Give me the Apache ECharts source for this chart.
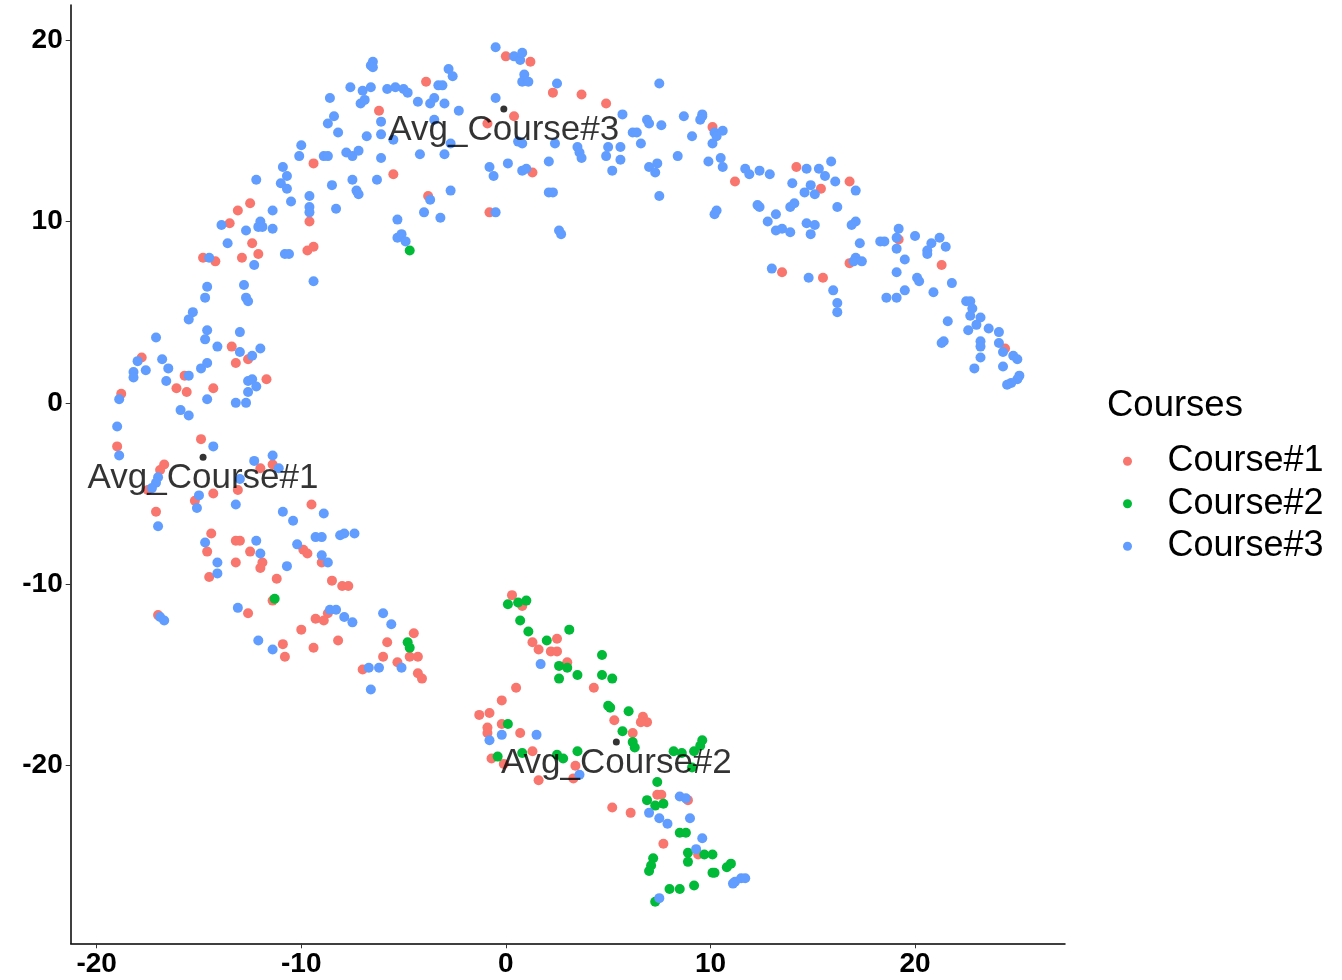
<!DOCTYPE html>
<html>
<head>
<meta charset="utf-8">
<script src="https://cdn.jsdelivr.net/npm/echarts@6/dist/echarts.min.js"></script>
<style>
html,body{margin:0;padding:0;background:#fff;}
#chart{width:1342px;height:980px;}
</style>
</head>
<body>
<div id="chart"></div>
<script>
const seriesNames = ['Course#1', 'Course#2', 'Course#3'];
const seriesColors = ['#F8766D', '#00BA38', '#619CFF'];
const xTicks = [-20, -10, 0, 10, 20];
const yTicks = [-20, -10, 0, 10, 20];
const xRange = [-21.27, 27.33];
const yRange = [-29.79, 21.93];

const course1Points = [
[-6.2,16.1],[-9.4,13.2],[-5.5,12.6],[-9.6,10.0],[-12.5,11.0],[-13.1,10.6],[-13.5,9.9],[-12.4,8.8],[-12.1,8.2],[-12.9,8.0],[-9.7,8.4],[-9.4,8.6],[-14.8,8.0],[-14.2,7.8],
[0.0,19.1],[1.2,18.8],[-3.9,17.7],[2.3,17.1],[3.7,17.0],[4.9,16.5],[0.4,15.8],[-0.9,15.4],[10.1,15.2],[1.3,12.7],[-3.8,11.4],[-0.8,10.5],
[11.2,12.2],[14.2,13.0],[16.8,12.2],[15.4,11.8],[19.2,9.0],[16.8,7.7],[21.3,7.6],[13.5,7.2],[15.5,6.9],[24.4,3.0],
[-13.4,3.1],[-12.6,2.4],[-13.2,2.2],[-17.8,2.5],[-15.7,1.5],[-16.1,0.8],[-15.6,0.6],[-14.3,0.8],[-11.7,1.3],[-18.8,0.5],[-19.0,-2.4],[-14.9,-2.0],[-16.7,-3.4],[-16.9,-3.7],[-17.5,-4.8],[-12.0,-3.6],[-11.4,-3.4],[-13.1,-4.8],[-15.2,-5.4],[-14.3,-5.0],[-17.1,-6.0],[-9.5,-5.6],[-14.4,-7.2],[-14.6,-8.2],[-13.2,-7.6],[-13.0,-7.6],[-12.5,-8.2],[-11.9,-8.8],[-12.0,-9.1],[-13.2,-8.8],[-14.5,-9.6],[-11.2,-9.7],[-9.9,-8.1],[-9.7,-8.3],[-9.0,-8.8],[-8.5,-9.8],[-8.0,-10.1],[-7.7,-10.1],[-11.4,-10.9],[-12.6,-11.6],[-17.0,-11.7],[-8.7,-11.6],[-9.3,-11.9],[-8.9,-12.0],[-10.0,-12.5],[-10.9,-13.3],[-10.8,-14.0],[-9.4,-13.5],[-8.2,-13.1],[-5.8,-13.2],[-6.0,-14.0],[-5.3,-14.3],[-7.0,-14.7],
[-4.5,-12.7],[-4.7,-14.0],[-4.3,-14.0],[-4.3,-14.9],[-4.1,-15.2],
[0.3,-10.6],[0.8,-11.2],[1.3,-13.2],[2.5,-13.0],[1.6,-13.6],[2.2,-13.7],[2.5,-13.7],[3.0,-14.3],[0.5,-15.7],[4.3,-15.7],[-0.2,-16.4],[-1.3,-17.2],[-0.8,-17.1],[6.7,-17.3],[6.9,-17.6],[6.6,-17.6],[5.3,-17.5],[-0.9,-17.9],[-0.9,-18.2],[-0.2,-17.7],[0.7,-18.2],[6.2,-18.2],[-0.7,-19.6],[-0.1,-19.9],[1.3,-19.2],[3.4,-20.0],[3.3,-20.7],[1.6,-20.8],[7.4,-21.6],[7.6,-21.6],[8.9,-21.9],[5.2,-22.3],[6.1,-22.6],[7.7,-24.3],[9.4,-24.9]
];

const course2Points = [
[-4.7,8.4],[-11.3,-10.8],[-4.8,-13.2],[-4.7,-13.5],[0.1,-11.1],[0.6,-11.0],[1.0,-10.9],[0.7,-12.0],[1.1,-12.6],[3.1,-12.5],[2.0,-13.1],[2.6,-14.5],[3.0,-14.6],[4.7,-13.9],[2.6,-15.2],[3.5,-15.0],[4.7,-15.0],[5.2,-15.2],[5.0,-16.7],[5.1,-16.8],[6.0,-17.0],[0.1,-17.7],[5.7,-18.1],[6.2,-18.7],[6.3,-19.0],[-0.4,-19.5],[0.8,-19.3],[2.5,-19.4],[2.8,-19.6],[3.5,-19.2],[8.2,-19.2],[8.6,-19.3],[9.2,-19.2],[9.5,-18.9],[9.6,-18.6],[9.1,-20.1],[7.4,-20.9],[6.9,-21.9],[7.3,-22.2],[7.7,-22.1],[8.5,-23.7],[8.8,-23.7],[8.9,-24.8],[8.9,-25.3],[9.7,-24.9],[10.1,-24.9],[7.2,-25.1],[7.1,-25.5],[7.0,-25.8],[10.1,-25.9],[10.2,-25.9],[10.8,-25.6],[11.0,-25.4],[8.0,-26.8],[8.5,-26.8],[9.2,-26.6],[7.3,-27.5]
];

const course3Points = [
[-6.6,18.6],[-6.5,18.8],[-6.5,18.5],[-7.6,17.4],[-7.0,17.2],[-6.6,17.4],[-7.1,16.5],[-6.9,16.7],[-5.8,17.3],[-5.4,17.4],[-8.6,16.8],[-6.1,15.5],[-8.4,15.8],[-8.7,15.4],[-8.2,14.9],[-6.8,14.7],[-6.1,14.8],[-5.5,14.5],[-10.0,14.2],[-10.1,13.6],[-8.9,13.6],[-8.7,13.6],[-7.8,13.8],[-7.5,13.6],[-7.2,13.9],[-6.1,13.5],[-10.9,13.0],[-10.7,12.5],[-11.0,12.1],[-10.7,11.8],[-12.2,12.3],[-10.5,11.1],[-9.6,11.4],[-9.6,10.8],[-9.6,10.5],[-8.5,12.0],[-7.5,12.3],[-7.3,11.7],[-7.2,11.5],[-6.3,12.3],[-8.3,10.7],[-5.3,10.1],[-5.3,9.1],[-11.4,10.6],[-13.9,9.8],[-12.0,10.0],[-12.1,9.7],[-11.9,9.7],[-11.4,9.6],[-12.7,9.5],[-13.6,8.8],[-12.3,7.6],[-10.8,8.2],[-10.6,8.2],[-9.4,6.7],[-14.5,8.0],[-14.6,6.4],[-14.7,5.8],[-12.8,6.5],[-12.7,5.8],[-12.6,5.6],[-15.3,5.0],[-15.5,4.6],
[-0.5,19.6],[0.4,19.1],[0.7,18.9],[0.8,19.3],[0.9,18.1],[0.8,17.7],[1.1,17.7],[-2.8,18.4],[-2.6,18.0],[2.5,17.6],[7.5,17.6],[-5.0,17.3],[-4.8,17.1],[-3.3,17.5],[-3.1,17.5],[-3.5,16.8],[-3.7,16.5],[-4.3,16.6],[-3.0,16.5],[-2.3,16.1],[-0.5,16.8],[-3.5,15.6],[0.6,14.4],[0.8,14.3],[-2.7,14.3],[2.4,14.3],[3.5,14.1],[3.6,13.8],[3.7,13.5],[5.0,14.1],[4.9,13.6],[5.6,14.1],[5.7,15.9],[6.9,15.6],[7.0,15.4],[7.6,15.3],[8.7,15.8],[9.6,15.8],[9.6,15.9],[9.5,15.6],[10.2,14.9],[10.1,14.3],[6.2,14.9],[6.4,14.9],[6.6,14.3],[5.6,13.4],[5.2,12.8],[7.0,13.0],[7.4,13.2],[7.3,12.7],[8.4,13.6],[9.1,14.7],[9.9,13.3],[-4.2,13.7],[-3.0,13.7],[2.1,13.3],[0.1,13.2],[-0.8,13.0],[-0.6,12.5],[0.8,12.8],[1.0,12.9],[2.1,11.6],[2.3,11.6],[-2.7,11.7],[-3.7,11.2],[7.5,11.4],[-4.0,10.5],[-3.2,10.2],[-0.5,10.5],[2.6,9.5],[2.7,9.3],[-5.1,9.3],[-4.9,8.9],[10.3,10.6],[10.2,10.4],
[10.6,15.0],[10.3,14.7],[10.5,13.5],[10.6,13.0],[11.7,12.9],[11.9,12.6],[12.4,12.8],[12.9,12.6],[14.7,12.9],[15.3,12.9],[15.6,12.5],[15.9,13.3],[17.1,11.7],[16.1,12.2],[14.0,12.1],[14.9,12.0],[14.6,11.6],[15.1,11.5],[12.3,10.9],[12.4,10.8],[13.9,10.8],[14.1,11.0],[16.2,10.8],[13.2,10.4],[12.8,10.0],[13.2,9.5],[13.5,9.6],[13.9,9.4],[14.7,9.9],[15.1,9.8],[14.9,9.3],[17.1,10.0],[16.9,9.8],[17.3,8.8],[18.3,8.9],[18.5,8.9],[19.2,9.6],[19.1,9.1],[19.1,8.5],[20.0,9.2],[20.8,8.8],[20.6,8.4],[20.6,8.2],[21.2,9.1],[21.5,8.6],[17.1,8.0],[17.0,7.8],[17.4,7.8],[19.5,7.9],[19.1,7.2],[13.0,7.4],[14.8,6.9],[16.0,6.2],[16.2,5.5],[16.2,5.0],[20.1,6.9],[20.2,6.7],[20.9,6.1],[21.8,6.6],[18.6,5.8],[19.1,5.8],[19.5,6.2],[22.5,5.6],[22.7,5.6],[22.8,5.2],[22.7,4.8],[23.2,4.7],[23.0,4.3],[23.6,4.1],[24.1,3.9],[21.6,4.5],[22.6,4.0],[21.4,3.4],[21.3,3.3],[23.2,3.4],[23.2,3.1],[23.2,2.5],[24.1,3.3],[24.3,2.8],[24.8,2.6],[25.0,2.4],[22.9,1.9],[24.3,2.0],[25.1,1.5],[25.0,1.3],[24.7,1.1],[24.5,1.0],
[-17.1,3.6],[-14.6,4.0],[-14.7,3.5],[-13.0,3.9],[-14.1,3.1],[-13.0,2.8],[-12.4,2.6],[-12.0,3.0],[-18.0,2.3],[-18.2,1.7],[-18.2,1.4],[-17.6,1.8],[-16.8,2.4],[-16.5,1.9],[-16.6,1.2],[-15.5,1.5],[-14.9,1.9],[-14.6,2.2],[-14.6,0.2],[-12.6,1.2],[-12.4,1.3],[-12.2,0.9],[-12.6,0.6],[-13.2,0.0],[-12.7,0.0],[-18.9,0.2],[-15.9,-0.4],[-15.5,-0.7],[-19.0,-1.3],[-18.9,-2.9],[-14.3,-2.4],[-17.0,-4.1],[-17.1,-4.4],[-17.3,-4.7],[-12.3,-3.2],[-11.4,-2.9],[-11.1,-3.6],[-13.0,-4.2],[-15.0,-5.1],[-15.1,-5.8],[-13.2,-5.6],[-17.0,-6.8],[-8.9,-6.1],[-10.9,-6.0],[-10.4,-6.5],[-14.7,-7.7],[-12.2,-7.6],[-12.0,-8.3],[-14.1,-8.8],[-14.1,-9.4],[-10.7,-9.0],[-10.2,-7.8],[-9.3,-7.4],[-9.0,-7.4],[-8.1,-7.3],[-7.9,-7.2],[-7.4,-7.2],[-9.0,-8.4],[-8.7,-8.8],[-13.1,-11.3],[-16.9,-11.8],[-16.7,-12.0],[-8.6,-11.4],[-8.3,-11.4],[-7.9,-11.8],[-7.5,-12.1],[-12.1,-13.1],[-11.4,-13.6],[-6.0,-11.6],[-5.6,-12.2],[-5.1,-14.6],[-6.7,-14.6],[-6.2,-14.6],[-6.6,-15.8],
[1.7,-14.4],[-0.8,-18.6],[-0.2,-18.3],[1.5,-18.3],[3.6,-20.5],[7.0,-22.6],[8.5,-21.7],[8.8,-21.8],[7.5,-22.9],[7.9,-23.2],[9.0,-22.9],[9.6,-24.0],[9.3,-24.6],[11.2,-26.4],[11.5,-26.2],[11.7,-26.2],[11.1,-26.5],[7.5,-27.3]
];

const avgLabels = ['Avg_Course#1', 'Avg_Course#2', 'Avg_Course#3'];
const avgPoints = [[-14.8, -3.0], [5.4, -18.7], [-0.1, 16.2]];

const FONT = '"Liberation Sans", Arial, sans-serif';
const chart = echarts.init(document.getElementById('chart'), null, {renderer: 'canvas'});

const pointSeries = [course1Points, course2Points, course3Points].map((pts, i) => ({
  name: seriesNames[i],
  type: 'scatter',
  data: pts,
  symbol: 'circle',
  symbolSize: 10,
  itemStyle: {color: seriesColors[i], opacity: 1},
  emphasis: {disabled: true},
  z: 2
}));

const avgSeries = {
  name: 'avg',
  type: 'scatter',
  data: avgPoints.map((p, i) => ({value: p, name: avgLabels[i]})),
  symbol: 'circle',
  symbolSize: 7,
  itemStyle: {color: '#000'},
  label: {
    show: true,
    formatter: '{b}',
    position: 'inside',
    offset: [0, 21],
    fontSize: 35,
    fontFamily: FONT,
    color: '#000',
    textBorderWidth: 0
  },
  emphasis: {disabled: true},
  z: 5
};

const axisCommon = {
  type: 'value',
  splitLine: {show: false},
  axisLine: {show: true, onZero: false, lineStyle: {color: '#000', width: 1.5}},
  axisTick: {show: true, length: 5, lineStyle: {color: '#333', width: 1}},
  axisLabel: {color: '#000', fontWeight: 'bold', fontSize: 28, fontFamily: FONT, margin: 8}
};

chart.setOption({
  backgroundColor: '#fff',
  animation: false,
  title: {
    text: 'Courses',
    left: 1102,
    top: 382,
    textStyle: {fontSize: 36.5, fontWeight: 'normal', fontFamily: FONT, color: '#000'}
  },
  legend: {
    data: seriesNames,
    orient: 'vertical',
    left: 1118,
    top: 435,
    icon: 'circle',
    itemWidth: 70,
    itemHeight: 9,
    itemGap: 0,
    textStyle: {fontSize: 36, fontFamily: FONT, color: '#000', lineHeight: 42.5}
  },
  grid: {left: 70.7, right: 277, top: 5, bottom: 36.7, containLabel: false},
  xAxis: Object.assign({}, axisCommon, {
    min: xRange[0], max: xRange[1],
    axisTick: Object.assign({}, axisCommon.axisTick, {customValues: xTicks}),
    axisLabel: Object.assign({}, axisCommon.axisLabel, {customValues: xTicks, margin: 7})
  }),
  yAxis: Object.assign({}, axisCommon, {
    min: yRange[0], max: yRange[1],
    axisTick: Object.assign({}, axisCommon.axisTick, {customValues: yTicks}),
    axisLabel: Object.assign({}, axisCommon.axisLabel, {customValues: yTicks})
  }),
  series: pointSeries.concat([avgSeries])
});
</script>
</body>
</html>
